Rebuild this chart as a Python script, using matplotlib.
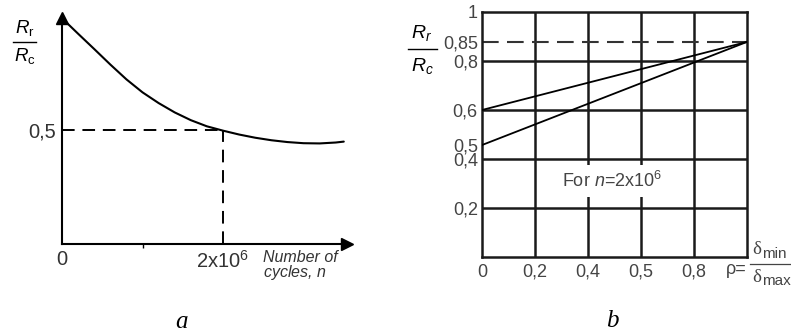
import numpy as np
import matplotlib
matplotlib.use('Agg')
import matplotlib.pyplot as plt
from matplotlib.lines import Line2D

plt.rcParams['font.family'] = ['Liberation Sans', 'DejaVu Sans']
plt.rcParams['mathtext.fontset'] = 'custom'
plt.rcParams['mathtext.rm'] = 'Liberation Sans'
plt.rcParams['mathtext.it'] = 'Liberation Sans:italic'
plt.rcParams['mathtext.bf'] = 'Liberation Sans:bold'

# panel a: R_r/R_c against number of cycles
cycles = np.array([0, 0.2, 0.4, 0.6, 0.8, 1.0, 1.2, 1.4, 1.6, 1.8, 2.0,
                   2.2, 2.4, 2.6, 2.8, 3.0, 3.2, 3.4, 3.5]) * 1e6
ratio = [0.99, 0.922, 0.855, 0.787, 0.722, 0.665, 0.618, 0.577, 0.543,
         0.516, 0.497, 0.480, 0.466, 0.455, 0.447, 0.442, 0.441, 0.445,
         0.449]
n_ref = 2e6
ratio_ref = 0.5

# panel b: R_r/R_c against rho for n = 2x10^6
rho = [0, 1]
ratio_upper = [0.6, 0.85]
ratio_lower = [0.5, 0.85]
rho_ticks = [0, 0.2, 0.4, 0.5, 0.8, 1]
rho_labels = ['0', '0,2', '0,4', '0,5', '0,8', '']
ratio_ticks = [0.2, 0.4, 0.5, 0.6, 0.8, 0.85, 1]
ratio_labels = ['0,2', '0,4', '0,5', '0,6', '0,8', '0,85', '1']
grid_rho = [0.2, 0.4, 0.5, 0.8]
grid_ratio = [0.2, 0.4, 0.6, 0.8]

W, H = 791, 335
fig = plt.figure(figsize=(W / 100, H / 100), dpi=100)


def px(x, y):
    return x / W, 1 - y / H


text_col = '#333333'
line_col = '#1a1a1a'

# ---------------- panel a ----------------
ax = fig.add_axes([62 / W, 1 - 244 / H, 285 / W, 226 / H])
ax.set_xlim(0, 3.54e6)
ax.set_ylim(0, 0.991)
for s in ['top', 'right']:
    ax.spines[s].set_visible(False)
for s in ['left', 'bottom']:
    ax.spines[s].set_linewidth(1.5)
    ax.spines[s].set_color('black')
ax.plot(1, 0, '>', color='black', ms=9, transform=ax.transAxes, clip_on=False)
ax.plot(0, 1, '^', color='black', ms=9, transform=ax.transAxes, clip_on=False)

ax.plot(cycles, ratio, color='black', lw=1.5, solid_joinstyle='round',
        solid_capstyle='round')
ax.plot([0, n_ref], [ratio_ref, ratio_ref], color='black', lw=1.4,
        dashes=(6.5, 4))
ax.plot([n_ref, n_ref], [0, ratio_ref], color='black', lw=1.4,
        dashes=(6.5, 4))

ax.set_yticks([ratio_ref])
ax.set_yticklabels(['0,5'])
ax.set_xticks([0, n_ref])
ax.set_xticklabels(['0', '2x10$^{6}$'])
ax.set_xticks([1e6], minor=True)
ax.tick_params(length=0, labelsize=14.5, labelcolor=text_col, pad=4)
ax.tick_params(which='minor', length=3, width=1, direction='out')

fig.text(*px(263, 266), 'Number of\ncycles, $n$', fontsize=11.5,
         style='italic', color=text_col, ha='left', va='center',
         linespacing=0.8)

# R_r / R_c label
fig.text(*px(25, 28), r'$R_{\mathrm{r}}$', fontsize=13.5, color='black',
         ha='center', va='center')
fig.add_artist(Line2D([13 / W, 36 / W], [1 - 42 / H, 1 - 42 / H],
                      color='black', lw=1.0))
fig.text(*px(25, 56), r'$R_{\mathrm{c}}$', fontsize=13.5, color='black',
         ha='center', va='center')

# ---------------- panel b ----------------
bx = fig.add_axes([482 / W, 1 - 257 / H, 265 / W, 245 / H])
rho_pos = np.arange(len(rho_ticks))
bx.set_xscale('function', functions=(
    lambda v: np.interp(v, rho_ticks, rho_pos),
    lambda p: np.interp(p, rho_pos, rho_ticks)))
ratio_vals = [0, 0.2, 0.4, 0.5, 0.6, 0.8, 0.85, 1]
ratio_pos = [0, 0.2, 0.4, 0.457, 0.6, 0.8, 0.878, 1]
bx.set_yscale('function', functions=(
    lambda v: np.interp(v, ratio_vals, ratio_pos),
    lambda p: np.interp(p, ratio_pos, ratio_vals)))
bx.set_xlim(0, 1)
bx.set_ylim(0, 1)

for s in bx.spines.values():
    s.set_linewidth(1.8)
    s.set_color(line_col)
for g in grid_rho:
    bx.axvline(g, color=line_col, lw=1.8, zorder=1)
for g in grid_ratio:
    bx.axhline(g, color=line_col, lw=1.8, zorder=1)
bx.axhline(0.85, color='#333333', lw=1.5, dashes=(8, 4), zorder=1)

bx.plot(rho, ratio_upper, color='black', lw=1.3, zorder=3)
bx.plot(rho, ratio_lower, color='black', lw=1.3, zorder=3)

bx.set_xticks(rho_ticks)
bx.set_xticklabels(rho_labels)
bx.set_yticks(ratio_ticks)
bx.set_yticklabels(ratio_labels)
bx.xaxis.set_minor_locator(plt.NullLocator())
bx.yaxis.set_minor_locator(plt.NullLocator())
bx.tick_params(length=0, labelsize=13, labelcolor='#444444', pad=3)
bx.tick_params(axis='x', pad=5)

bx.text(0.49, 0.31, 'For $n$=2x10$^{6}$', transform=bx.transAxes,
        fontsize=13, color='#444444', ha='center', va='center', zorder=5,
        bbox=dict(boxstyle='square,pad=0.35', fc='white', ec='none'))

# R_r / R_c label
fig.text(*px(422, 33), r'$R_r$', fontsize=14, color='black',
         ha='center', va='center')
fig.add_artist(Line2D([408 / W, 437 / W], [1 - 49 / H, 1 - 49 / H],
                      color='black', lw=1.0))
fig.text(*px(422, 66), r'$R_c$', fontsize=14, color='black',
         ha='center', va='center')

# rho = delta_min / delta_max
fig.text(*px(736, 269), 'ρ=', fontsize=13, color='#444444',
         ha='center', va='center')
fig.text(*px(757, 250), 'δ', family='Liberation Serif', fontsize=13.5,
         color='#444444', ha='center', va='center')
fig.text(*px(762, 254), 'min', fontsize=11, color='#444444',
         ha='left', va='center')
fig.add_artist(Line2D([750 / W, 791 / W], [1 - 264 / H, 1 - 264 / H],
                      color='#444444', lw=0.9))
fig.text(*px(757, 277), 'δ', family='Liberation Serif', fontsize=13.5,
         color='#444444', ha='center', va='center')
fig.text(*px(762, 281), 'max', fontsize=11, color='#444444',
         ha='left', va='center')

# panel letters
fig.text(*px(182, 322), 'a', family='Liberation Serif', style='italic',
         fontsize=18, color='black', ha='center', va='center')
fig.text(*px(612, 321), 'b', family='Liberation Serif', style='italic',
         fontsize=18, color='black', ha='center', va='center')

fig.savefig('out.png', dpi=100)
